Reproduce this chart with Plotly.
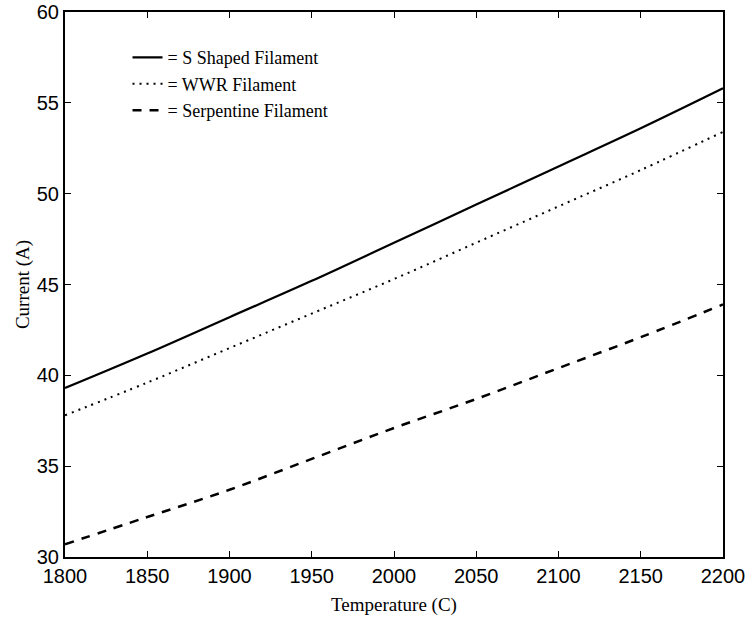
import plotly.graph_objects as go

temperature = [1800, 1850, 1900, 1950, 2000, 2050, 2100, 2150, 2200]
s_shaped = [39.3, 41.2, 43.2, 45.2, 47.3, 49.4, 51.5, 53.6, 55.8]
wwr = [37.8, 39.6, 41.5, 43.4, 45.3, 47.3, 49.3, 51.3, 53.4]
serpentine = [30.7, 32.2, 33.7, 35.4, 37.1, 38.7, 40.4, 42.1, 43.9]

names = ["= S Shaped Filament", "= WWR Filament", "= Serpentine Filament"]
x_ticks = [1800, 1850, 1900, 1950, 2000, 2050, 2100, 2150, 2200]
y_ticks = [30, 35, 40, 45, 50, 55, 60]

fig = go.Figure()
fig.add_trace(go.Scatter(x=temperature, y=s_shaped, mode="lines", name=names[0],
                         line=dict(color="black", width=2.2, shape="spline")))
fig.add_trace(go.Scatter(x=temperature, y=wwr, mode="lines", name=names[1],
                         line=dict(color="black", width=2, dash="2px,5px", shape="spline")))
fig.add_trace(go.Scatter(x=temperature, y=serpentine, mode="lines", name=names[2],
                         line=dict(color="black", width=2.5, dash="9px,8px", shape="spline")))

serif = "Liberation Serif, Times New Roman, serif"
sans = "Liberation Sans, Arial, sans-serif"

fig.update_layout(
    width=747, height=627,
    margin=dict(l=65, r=24, t=12, b=70),
    paper_bgcolor="white", plot_bgcolor="white",
    showlegend=True,
    legend=dict(x=0.095, y=0.95, xanchor="left", yanchor="top",
                bgcolor="rgba(0,0,0,0)", font=dict(family=serif, size=18, color="black")),
    xaxis=dict(range=[1800, 2200], tickvals=x_ticks, ticks="inside", ticklen=6,
               tickcolor="black", showline=True, linecolor="black", linewidth=2,
               mirror="ticks", showgrid=False, zeroline=False, ticklabeloverflow="allow",
               tickfont=dict(family=sans, size=20, color="black"),
               title=dict(text="Temperature (C)", font=dict(family=serif, size=19, color="black"),
                          standoff=12)),
    yaxis=dict(range=[30, 60], tickvals=y_ticks, ticks="inside", ticklen=6,
               tickcolor="black", showline=True, linecolor="black", linewidth=2,
               mirror="ticks", showgrid=False, zeroline=False,
               tickfont=dict(family=sans, size=20, color="black"),
               title=dict(text="Current (A)", font=dict(family=serif, size=19, color="black"),
                          standoff=2)),
)
fig.update_xaxes(automargin=False)
fig.update_yaxes(automargin=False)

fig.write_html("out.html")
